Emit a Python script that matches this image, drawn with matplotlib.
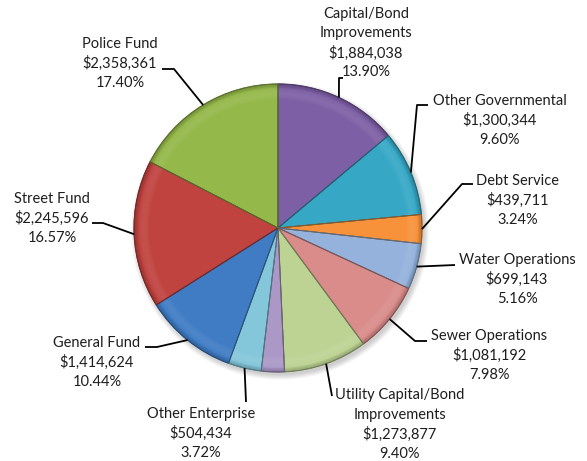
import numpy as np
import matplotlib.pyplot as plt
from matplotlib.patches import Wedge, Circle
from matplotlib.colors import to_rgb

plt.rcParams['font.family'] = ['Lato', 'DejaVu Sans']

# slices, clockwise from 12 o'clock
names = ['Capital/Bond\nImprovements', 'Other Governmental', 'Debt Service',
         'Water Operations', 'Sewer Operations',
         'Utility Capital/Bond\nImprovements', '', 'Other Enterprise',
         'General Fund', 'Street Fund', 'Police Fund']
amounts = [1884038, 1300344, 439711, 699143, 1081192, 1273877, 351000,
           504434, 1414624, 2245596, 2358361]
amount_text = ['$1,884,038', '$1,300,344', '$439,711', '$699,143', '$1,081,192',
               '$1,273,877', '', '$504,434', '$1,414,624', '$2,245,596', '$2,358,361']
pct_text = ['13.90%', '9.60%', '3.24%', '5.16%', '7.98%', '9.40%', '',
            '3.72%', '10.44%', '16.57%', '17.40%']
colors = ['#7d5fa5', '#36a8c6', '#f7923a', '#94b2dc', '#d98c8a', '#bcd393',
          '#ab98c7', '#84c6da', '#3f7cc4', '#c0433f', '#95b84a']

W, H = 587, 461
cx, cy, R = 278, H - 228, 144

# label layout in pixels from top-left: text centre x, first line y, leader points
label_pos = [(366, 14), (500, 101), (518, 181), (517, 260), (489, 336),
             (400, 395), None, (201, 414), (97, 343), (52, 199), (120, 44)]
leaders = [[(339, 78), (343, 78)],
           [(417, 105), (428, 105)],
           [(462, 184), (473, 184)],
           [(455, 265)],
           [(415, 341), (427, 341)],
           [(332, 396)],
           None,
           [(246, 402)],
           [(157, 347), (145, 347)],
           [(103, 223), (92, 223)],
           [(174, 69), (162, 69)]]

fig = plt.figure(figsize=(W / 100, H / 100), dpi=100)
ax = fig.add_axes([0, 0, 1, 1])

# soft drop shadow
for k in range(8):
    ax.add_patch(Circle((cx + 2, cy - 3), R + 5 - k * 0.7, color='black',
                        alpha=0.025, lw=0, zorder=0))

wedges, _ = ax.pie(amounts, colors=colors, startangle=90, counterclock=False,
                   center=(cx, cy), radius=R, frame=True,
                   wedgeprops=dict(linewidth=0.8))

for w, c in zip(wedges, colors):
    rgb = np.array(to_rgb(c))
    dark = rgb * 0.6
    light = rgb + (1 - rgb) * 0.4
    w.set_edgecolor(rgb * 0.75)
    t1, t2 = w.theta1, w.theta2
    # bevel: soft highlight inside the rim, shading at the very edge
    for k in range(12):
        r = R - 16 + k
        a = 0.05 * np.sin(np.pi * (k + 0.5) / 12)
        ax.add_patch(Wedge((cx, cy), r + 1, t1, t2, width=1, color=light,
                           alpha=a * 4, lw=0, zorder=2))
    for k in range(4):
        ax.add_patch(Wedge((cx, cy), R - k, t1, t2, width=1, color=dark,
                           alpha=0.55 - k * 0.12, lw=0, zorder=2))
    ax.add_patch(Wedge((cx, cy), R, t1, t2, fill=False, edgecolor=dark,
                       lw=0.6, zorder=3))

for i, w in enumerate(wedges):
    if label_pos[i] is None:
        continue
    mid = np.deg2rad((w.theta1 + w.theta2) / 2)
    pts = [(cx + R * np.cos(mid), cy + R * np.sin(mid))]
    pts += [(x, H - y) for x, y in leaders[i]]
    xs, ys = zip(*pts)
    ax.plot(xs, ys, color='black', lw=1.3, zorder=4, solid_capstyle='butt')
    tx, ty = label_pos[i]
    lines = names[i].split('\n') + [amount_text[i], pct_text[i]]
    for j, s in enumerate(lines):
        ax.text(tx, H - (ty + j * 19.5), s, ha='center', va='center',
                fontsize=10.5, color='#1e1e1e', zorder=5)

ax.set_xlim(0, W)
ax.set_ylim(0, H)
ax.set_aspect('equal')
ax.axis('off')

fig.savefig('out.png', dpi=100)
